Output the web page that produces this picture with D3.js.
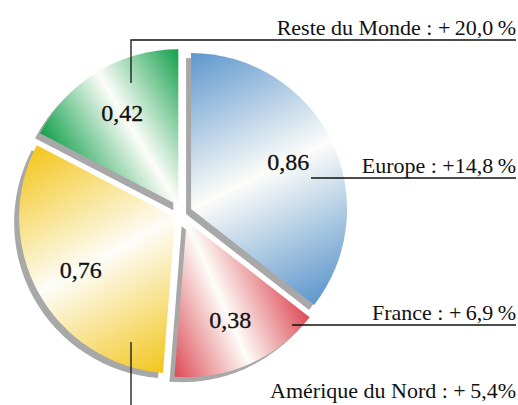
<!DOCTYPE html>
<html>
<head>
<meta charset="utf-8">
<script src="https://cdn.jsdelivr.net/npm/d3@7/dist/d3.min.js"></script>
<style>
body{margin:0;background:#fff}
</style>
</head>
<body>
<div id="graph"></div>
<script>
"use strict"
// data
var regions=["Europe","France","Amérique du Nord","Reste du Monde"]
var values=[0.86,0.38,0.76,0.42]
var growth=["+14,8\u2009%","+\u20096,9\u2009%","+\u20095,4%","+\u200920,0\u2009%"]
var colors=["#5e97cd","#dd4a55","#f3c61c","#12a04b"]

var W=518,H=405
var cx=183,cy=213,R=156,explode=9

// annotation placement (leader lines + text), same order as regions
var notes=[
  {line:[[311,178],[516,178]],tx:516,ty:173},
  {line:[[292,325],[516,325]],tx:516,ty:320},
  {line:[[131,342],[131,410]],tx:516,ty:398},
  {line:[[131,83],[131,40],[516,40]],tx:516,ty:35}
]

var fmt=function(v){return d3.format(".2f")(v).replace(".",",")}

var svg=d3.select('#graph').append('svg:svg').attr('width',W).attr('height',H)
var defs=svg.append('defs')

var pie=d3.pie().sort(null).value(function(d){return d}).startAngle(0).endAngle(2*Math.PI)
var arcs=pie(values)
var arc=d3.arc().innerRadius(0).outerRadius(R)
var labelArc=d3.arc().innerRadius(108).outerRadius(108)

function offset(d){
  var a=(d.startAngle+d.endAngle)/2
  return [explode*Math.sin(a),-explode*Math.cos(a)]
}

// gradients: colour at both corners, white along the bisector
arcs.forEach(function(d,i){
  var g=defs.append('linearGradient').attr('id','grad'+i).attr('gradientUnits','userSpaceOnUse')
    .attr('x1',R*Math.sin(d.startAngle)).attr('y1',-R*Math.cos(d.startAngle))
    .attr('x2',R*Math.sin(d.endAngle)).attr('y2',-R*Math.cos(d.endAngle))
  g.append('stop').attr('offset',0).attr('stop-color',colors[i])
  g.append('stop').attr('offset',0.5).attr('stop-color','#fdfdf9')
  g.append('stop').attr('offset',1).attr('stop-color',colors[i])
})

var pieG=svg.append('g').attr('transform','translate('+cx+','+cy+')')

// shadows first
pieG.selectAll('path.shadow').data(arcs).enter().append('path')
  .attr('class','shadow')
  .attr('d',arc)
  .attr('fill','#a8a8a8')
  .attr('transform',function(d){var o=offset(d);return 'translate('+(o[0]-5)+','+(o[1]+5)+')'})

var slices=pieG.selectAll('g.slice').data(arcs).enter().append('g')
  .attr('class','slice')
  .attr('transform',function(d){var o=offset(d);return 'translate('+o[0]+','+o[1]+')'})

slices.append('path').attr('d',arc).attr('fill',function(d,i){return 'url(#grad'+i+')'})

slices.append('text')
  .attr('transform',function(d){return 'translate('+labelArc.centroid(d)+')'})
  .attr('dy','0.34em')
  .attr('text-anchor','middle')
  .attr('font-family',"'Liberation Serif',serif")
  .attr('font-size',24)
  .attr('fill','#111')
  .attr('stroke','#111').attr('stroke-width',0.3)
  .text(function(d){return fmt(d.data)})

// leader lines and region labels
var line=d3.line()
notes.forEach(function(n,i){
  svg.append('path').attr('d',line(n.line)).attr('fill','none').attr('stroke','#111').attr('stroke-width',1.3)
  svg.append('text').attr('x',n.tx).attr('y',n.ty).attr('text-anchor','end')
    .attr('font-family',"'Liberation Serif',serif").attr('font-size',22).attr('fill','#111')
    .text(regions[i]+'\u00a0: '+growth[i])
})
</script>
</body>
</html>
